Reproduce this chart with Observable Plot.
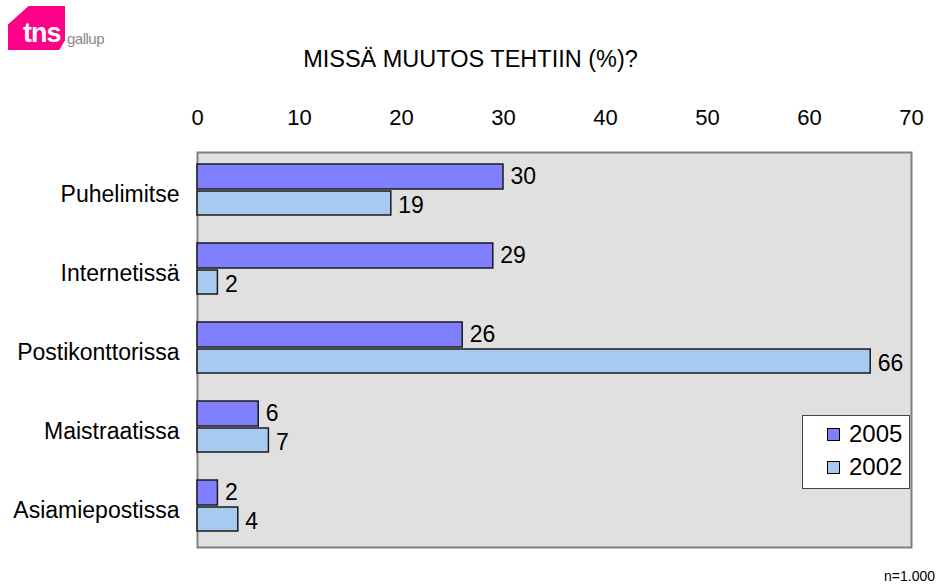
<!DOCTYPE html>
<html>
<head>
<meta charset="utf-8">
<script src="https://cdn.jsdelivr.net/npm/d3@7"></script>
<script src="https://cdn.jsdelivr.net/npm/@observablehq/plot@0.6"></script>
<style>
  body { margin: 0; background: #fff; font-family: "Liberation Sans", Arial, sans-serif; }
  #wrap { position: relative; width: 937px; height: 587px; overflow: hidden; }
  #chart { position: absolute; left: 0; top: 0; }
  .title { position: absolute; left: 0; width: 937px; top: 46px; text-align: center; font-size: 23.5px; color: #000; padding-left: 2px; }
  .logo { position: absolute; left: 8px; top: 6px; width: 57px; height: 44px; background: #ff0088;
          clip-path: polygon(36% 0, 100% 0, 100% 78%, 90% 100%, 0 100%, 0 42%); overflow: hidden; }
  .logo span { position: absolute; left: 15px; top: 12px; color: #fff; font-weight: bold; font-size: 27px; letter-spacing: -1px; }
  .gallup { position: absolute; left: 67px; top: 30px; color: #8a8a8a; font-size: 15px; letter-spacing: -0.5px; }
  .legend { position: absolute; left: 802px; top: 415px; width: 108px; height: 74px; background: #fff; border: 1px solid #444; box-sizing: border-box; font-size: 24px; }
  .legend div { position: absolute; left: 24px; display: flex; align-items: center; }
  .legend i { display: inline-block; width: 11px; height: 11px; border: 1px solid #000; margin-right: 9px; }
  .note { position: absolute; right: 2px; top: 568px; font-size: 14px; color: #000; }
</style>
</head>
<body>
<div id="wrap">
  <div class="logo"><span>tns</span></div>
  <div class="gallup">gallup</div>
  <div class="title">MISSÄ MUUTOS TEHTIIN (%)?</div>
  <div id="chart"></div>
  <div class="legend" id="legend"></div>
  <div class="note">n=1.000</div>
</div>
<script>
const categories = ["Puhelimitse", "Internetissä", "Postikonttorissa", "Maistraatissa", "Asiamiepostissa"];
const values2005 = [30, 29, 26, 6, 2];
const values2002 = [19, 2, 66, 7, 4];
const series = ["2005", "2002"];
const colors = ["#8080ff", "#a6caf0"];
const xTicks = [0, 10, 20, 30, 40, 50, 60, 70];

const d2005 = categories.map((c, i) => ({category: c, value: values2005[i]}));
const d2002 = categories.map((c, i) => ({category: c, value: values2002[i]}));

const plot = Plot.plot({
  width: 937,
  height: 587,
  marginTop: 152,
  marginLeft: 197,
  marginRight: 26,
  marginBottom: 40,
  style: {fontFamily: "'Liberation Sans', Arial, sans-serif", fontSize: "22px", color: "#000", background: "transparent"},
  x: {domain: [0, 70], axis: null},
  y: {domain: categories, padding: 0, axis: null},
  marks: [
    Plot.frame({fill: "#e0e0e0", stroke: "#808080", strokeWidth: 2}),
    Plot.axisX({anchor: "top", ticks: xTicks, tickSize: 0, tickPadding: 28, label: null, fontSize: 22}),
    Plot.axisY({anchor: "left", tickSize: 0, tickPadding: 18, dy: 3, label: null, fontSize: 23}),
    Plot.barX(d2005, {x: "value", y: "category", fill: colors[0], stroke: "#1a1a1a", strokeWidth: 1.5, insetTop: 12, insetBottom: 42}),
    Plot.barX(d2002, {x: "value", y: "category", fill: colors[1], stroke: "#1a1a1a", strokeWidth: 1.5, insetTop: 39, insetBottom: 16}),
    Plot.text(d2005, {x: "value", y: "category", text: d => String(d.value), dx: 7, dy: -15, textAnchor: "start", fontSize: 23, fill: "#000"}),
    Plot.text(d2002, {x: "value", y: "category", text: d => String(d.value), dx: 7, dy: 14, textAnchor: "start", fontSize: 23, fill: "#000"})
  ]
});
document.getElementById("chart").appendChild(plot);

const legend = document.getElementById("legend");
series.forEach((s, i) => {
  const row = document.createElement("div");
  row.style.top = (i === 0 ? 4 : 37) + "px";
  row.innerHTML = `<i style="background:${colors[i]}"></i>${s}`;
  legend.appendChild(row);
});
</script>
</body>
</html>
